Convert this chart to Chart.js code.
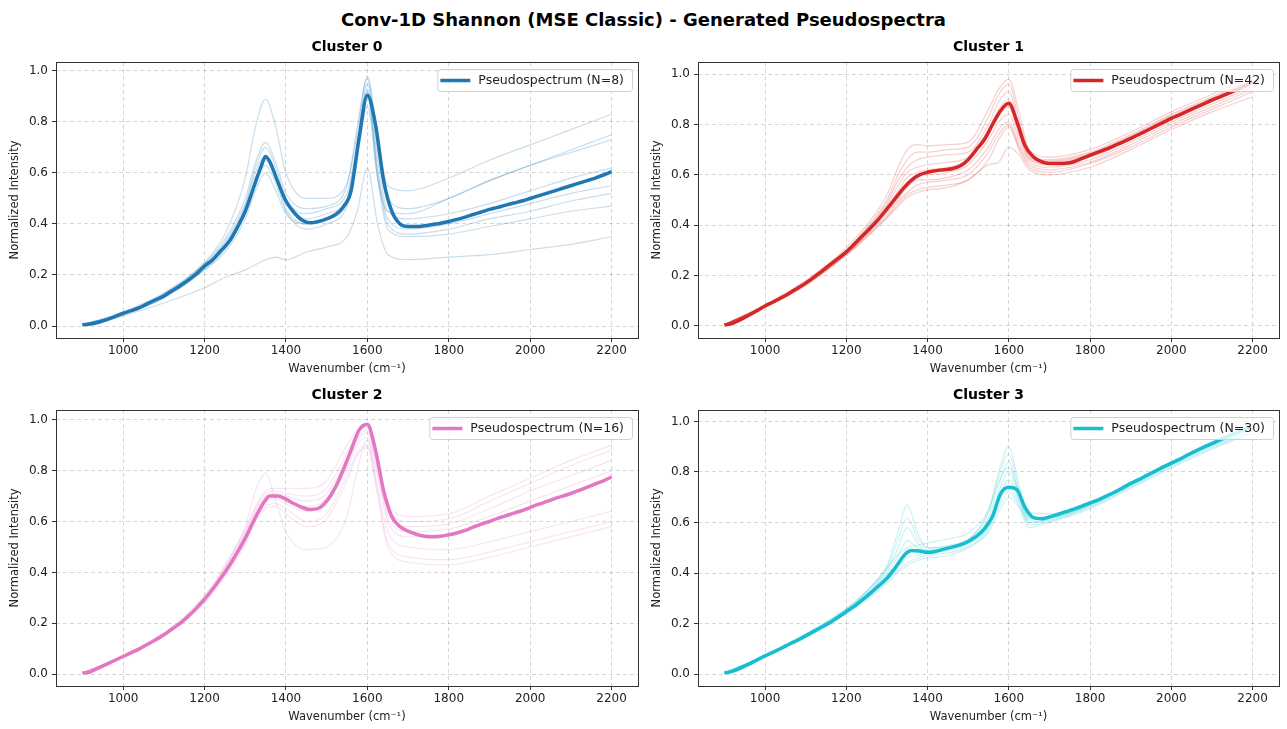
<!DOCTYPE html>
<html>
<head>
<meta charset="utf-8">
<script src="https://cdn.jsdelivr.net/npm/chart.js@4.4.1/dist/chart.umd.min.js"></script>
<style>
  body { margin: 0; background: #fff; width: 1287px; height: 729px; position: relative; overflow: hidden; }
  #suptitle { position: absolute; left: 0; top: 9px; width: 1287px; height: 22px; line-height: 22px;
    text-align: center; font: bold 18px 'DejaVu Sans', sans-serif; color: #000; }
  canvas { position: absolute; }
</style>
</head>
<body>
<div id="suptitle">Conv-1D Shannon (MSE Classic) - Generated Pseudospectra</div>
<canvas id="c0" width="643" height="350" style="left:0px;top:30px"></canvas>
<canvas id="c1" width="642" height="350" style="left:642px;top:30px"></canvas>
<canvas id="c2" width="643" height="350" style="left:0px;top:378px"></canvas>
<canvas id="c3" width="642" height="350" style="left:642px;top:378px"></canvas>
<script>
// wavenumber grids (cm-1)
const wavenumbers = [900,920,940,960,980,1000,1020,1040,1060,1080,1100,1120,1140,1160,1180,1200,1220,1240,1260,1280,1300,1320,1340,1350,1360,1380,1400,1420,1440,1460,1480,1500,1520,1540,1560,1580,1600,1620,1640,1660,1680,1700,1720,1740,1760,1780,1800,1820,1840,1860,1880,1900,1920,1940,1960,1980,2000,2020,2040,2060,2080,2100,2120,2140,2160,2180,2200];
const faintWavenumbers = [900,1000,1100,1200,1250,1300,1325,1350,1375,1400,1450,1500,1550,1575,1600,1625,1650,1700,1800,1900,2000,2100,2200];

const xTicks = [1000, 1200, 1400, 1600, 1800, 2000, 2200];
const yTicks = [0.0, 0.2, 0.4, 0.6, 0.8, 1.0];

const clusterNames = ['Cluster 0', 'Cluster 1', 'Cluster 2', 'Cluster 3'];
const clusterCounts = [8, 42, 16, 30];
const clusterColors = [[31,119,180], [214,39,40], [227,119,194], [23,190,207]];

// mean pseudospectra
const cluster0Mean = [0.005,0.008,0.015,0.025,0.037,0.05,
  0.06,0.072,0.088,0.103,0.118,
  0.138,0.158,0.18,0.205,0.235,
  0.26,0.295,0.33,0.385,0.45,
  0.54,0.63,0.665,0.645,0.565,0.49,
  0.445,0.415,0.405,0.41,0.42,
  0.435,0.465,0.53,0.74,0.905,
  0.79,0.57,0.45,0.40,0.39,
  0.39,0.393,0.398,0.403,0.41,
  0.418,0.427,0.437,0.447,0.457,
  0.465,0.474,0.482,0.49,0.50,
  0.51,0.52,0.53,0.54,0.55,
  0.56,0.57,0.58,0.592,0.605];

const cluster1Mean = [0.003,0.01,0.025,0.042,0.06,0.079,
  0.095,0.112,0.13,0.15,0.17,
  0.193,0.218,0.243,0.268,0.294,
  0.325,0.358,0.39,0.425,0.465,
  0.505,0.545,0.562,0.578,0.60,0.61,
  0.616,0.62,0.624,0.635,0.66,
  0.70,0.74,0.80,0.855,0.884,
  0.81,0.715,0.672,0.652,0.645,
  0.645,0.646,0.652,0.665,0.678,
  0.69,0.702,0.716,0.73,0.745,
  0.76,0.776,0.792,0.808,0.824,
  0.838,0.853,0.868,0.882,0.897,
  0.91,0.923,0.937,0.952,0.97];

const cluster2Mean = [0.005,0.01,0.025,0.04,0.055,0.07,
  0.085,0.10,0.118,0.136,0.155,
  0.178,0.20,0.228,0.26,0.295,
  0.335,0.378,0.425,0.478,0.535,
  0.60,0.66,0.685,0.70,0.70,0.688,
  0.67,0.655,0.647,0.652,0.68,
  0.73,0.80,0.88,0.96,0.982,
  0.88,0.72,0.62,0.58,0.562,
  0.55,0.542,0.54,0.542,0.548,
  0.555,0.565,0.578,0.59,0.60,
  0.612,0.622,0.633,0.643,0.655,
  0.667,0.678,0.69,0.70,0.71,
  0.722,0.735,0.748,0.76,0.775];

const cluster3Mean = [0.005,0.012,0.025,0.04,0.057,0.073,
  0.088,0.103,0.12,0.135,0.152,
  0.17,0.187,0.205,0.226,0.248,
  0.27,0.295,0.322,0.35,0.38,
  0.42,0.465,0.482,0.49,0.488,0.482,
  0.486,0.495,0.503,0.512,0.525,
  0.545,0.575,0.625,0.715,0.74,
  0.73,0.66,0.62,0.615,0.622,
  0.632,0.643,0.653,0.665,0.678,
  0.69,0.705,0.72,0.737,0.755,
  0.77,0.787,0.803,0.82,0.835,
  0.85,0.867,0.883,0.898,0.912,
  0.927,0.942,0.955,0.968,0.98];

// individual member spectra (on faintWavenumbers)
const cluster0Spectra = [
  [0.005,0.055,0.13,0.25,0.36,0.58,0.78,0.89,0.78,0.60,0.50,0.50,0.56,0.75,0.98,0.75,0.55,0.53,0.58,0.65,0.71,0.77,0.83],
  [0.005,0.05,0.125,0.245,0.34,0.50,0.64,0.72,0.64,0.52,0.46,0.47,0.55,0.78,0.97,0.70,0.50,0.46,0.50,0.57,0.63,0.69,0.75],
  [0.005,0.05,0.12,0.24,0.33,0.48,0.62,0.70,0.62,0.50,0.44,0.46,0.52,0.72,0.95,0.66,0.45,0.42,0.44,0.48,0.53,0.58,0.62],
  [0.005,0.05,0.12,0.235,0.32,0.47,0.60,0.67,0.60,0.48,0.42,0.44,0.50,0.70,0.93,0.62,0.42,0.38,0.40,0.44,0.48,0.52,0.55],
  [0.005,0.045,0.115,0.23,0.31,0.45,0.58,0.65,0.58,0.46,0.40,0.42,0.49,0.70,0.92,0.60,0.40,0.36,0.38,0.42,0.45,0.49,0.52],
  [0.005,0.045,0.11,0.22,0.30,0.44,0.56,0.63,0.56,0.45,0.38,0.40,0.47,0.68,0.90,0.58,0.38,0.35,0.36,0.39,0.42,0.45,0.47],
  [0.005,0.045,0.11,0.22,0.29,0.42,0.53,0.60,0.53,0.44,0.40,0.42,0.48,0.66,0.86,0.58,0.45,0.44,0.50,0.57,0.63,0.68,0.73],
  [0.0,0.04,0.09,0.15,0.19,0.22,0.24,0.26,0.27,0.26,0.29,0.31,0.35,0.45,0.62,0.40,0.28,0.26,0.27,0.28,0.30,0.32,0.35]
];
const cluster1Spectra = [
  [0.005,0.085,0.18,0.31,0.40,0.52,0.62,0.70,0.72,0.715,0.72,0.73,0.86,0.94,0.98,0.85,0.70,0.67,0.70,0.77,0.85,0.92,0.99],
  [0.005,0.082,0.175,0.30,0.39,0.50,0.59,0.66,0.69,0.69,0.70,0.71,0.83,0.92,0.96,0.82,0.69,0.66,0.69,0.76,0.84,0.91,0.98],
  [0.005,0.08,0.172,0.298,0.385,0.49,0.57,0.63,0.66,0.67,0.68,0.69,0.80,0.89,0.93,0.80,0.68,0.655,0.685,0.755,0.835,0.905,0.975],
  [0.005,0.08,0.17,0.295,0.38,0.48,0.55,0.61,0.63,0.64,0.65,0.67,0.78,0.86,0.90,0.78,0.67,0.65,0.68,0.75,0.83,0.90,0.97],
  [0.005,0.078,0.17,0.292,0.375,0.47,0.53,0.59,0.61,0.62,0.63,0.66,0.76,0.84,0.87,0.76,0.665,0.645,0.675,0.745,0.825,0.895,0.965],
  [0.005,0.078,0.168,0.29,0.37,0.46,0.52,0.57,0.60,0.60,0.61,0.64,0.74,0.81,0.84,0.74,0.66,0.64,0.67,0.74,0.82,0.89,0.96],
  [0.005,0.077,0.167,0.288,0.365,0.45,0.50,0.55,0.58,0.58,0.59,0.62,0.71,0.78,0.81,0.72,0.65,0.63,0.66,0.73,0.81,0.88,0.95],
  [0.005,0.076,0.165,0.285,0.36,0.44,0.49,0.53,0.56,0.57,0.58,0.60,0.69,0.76,0.80,0.71,0.64,0.62,0.65,0.72,0.80,0.87,0.94],
  [0.005,0.075,0.163,0.282,0.355,0.43,0.48,0.52,0.54,0.55,0.56,0.58,0.66,0.74,0.79,0.70,0.63,0.61,0.645,0.71,0.79,0.86,0.93],
  [0.005,0.075,0.16,0.28,0.35,0.43,0.47,0.51,0.53,0.54,0.55,0.58,0.64,0.65,0.71,0.68,0.62,0.60,0.63,0.70,0.78,0.85,0.91]
];
const cluster2Spectra = [
  [0.005,0.075,0.16,0.31,0.43,0.57,0.66,0.72,0.73,0.73,0.73,0.76,0.90,0.96,0.98,0.85,0.68,0.62,0.63,0.70,0.77,0.84,0.90],
  [0.005,0.072,0.158,0.30,0.42,0.56,0.65,0.71,0.72,0.71,0.70,0.73,0.87,0.95,0.97,0.84,0.66,0.60,0.61,0.68,0.75,0.82,0.88],
  [0.005,0.07,0.155,0.30,0.41,0.55,0.64,0.70,0.71,0.70,0.68,0.71,0.85,0.93,0.96,0.82,0.64,0.58,0.59,0.65,0.72,0.78,0.84],
  [0.005,0.07,0.155,0.295,0.40,0.54,0.63,0.69,0.70,0.68,0.66,0.69,0.83,0.92,0.95,0.80,0.62,0.56,0.57,0.62,0.68,0.74,0.80],
  [0.005,0.07,0.153,0.29,0.40,0.53,0.62,0.68,0.69,0.67,0.64,0.67,0.81,0.90,0.93,0.78,0.60,0.54,0.55,0.60,0.66,0.71,0.77],
  [0.005,0.072,0.16,0.30,0.42,0.58,0.72,0.79,0.68,0.56,0.49,0.50,0.62,0.80,0.92,0.74,0.56,0.50,0.49,0.52,0.56,0.60,0.64],
  [0.005,0.068,0.15,0.285,0.39,0.52,0.61,0.66,0.67,0.65,0.60,0.63,0.78,0.87,0.90,0.72,0.52,0.46,0.45,0.48,0.52,0.56,0.60],
  [0.005,0.068,0.15,0.28,0.385,0.51,0.60,0.65,0.66,0.63,0.58,0.61,0.76,0.86,0.89,0.70,0.50,0.44,0.43,0.46,0.50,0.54,0.58]
];
const cluster3Spectra = [
  [0.005,0.075,0.16,0.26,0.33,0.43,0.55,0.67,0.56,0.50,0.50,0.53,0.65,0.80,0.90,0.75,0.62,0.62,0.67,0.75,0.83,0.91,0.98],
  [0.005,0.074,0.155,0.255,0.325,0.42,0.52,0.62,0.54,0.50,0.51,0.535,0.64,0.78,0.87,0.73,0.62,0.625,0.675,0.755,0.835,0.915,0.985],
  [0.005,0.073,0.153,0.252,0.32,0.41,0.49,0.58,0.52,0.49,0.505,0.53,0.62,0.75,0.84,0.71,0.615,0.62,0.67,0.75,0.83,0.91,0.975],
  [0.005,0.073,0.152,0.25,0.315,0.40,0.46,0.53,0.50,0.49,0.50,0.525,0.60,0.72,0.80,0.70,0.61,0.62,0.675,0.755,0.835,0.91,0.98],
  [0.005,0.072,0.15,0.248,0.31,0.39,0.44,0.49,0.49,0.485,0.495,0.52,0.59,0.70,0.77,0.69,0.60,0.615,0.67,0.75,0.83,0.905,0.97],
  [0.005,0.072,0.15,0.245,0.305,0.38,0.42,0.46,0.47,0.48,0.49,0.515,0.58,0.68,0.74,0.68,0.60,0.61,0.665,0.745,0.825,0.90,0.965],
  [0.005,0.071,0.148,0.242,0.30,0.37,0.41,0.44,0.46,0.47,0.48,0.505,0.57,0.66,0.72,0.67,0.59,0.605,0.66,0.74,0.82,0.895,0.96],
  [0.005,0.07,0.146,0.24,0.295,0.36,0.40,0.43,0.45,0.46,0.47,0.50,0.56,0.64,0.70,0.66,0.58,0.60,0.655,0.735,0.815,0.89,0.955],
  [0.005,0.075,0.158,0.258,0.33,0.42,0.47,0.50,0.51,0.52,0.535,0.56,0.65,0.76,0.82,0.72,0.64,0.635,0.68,0.76,0.84,0.92,0.99]
];

const means = [cluster0Mean, cluster1Mean, cluster2Mean, cluster3Mean];
const spectra = [cluster0Spectra, cluster1Spectra, cluster2Spectra, cluster3Spectra];
const yRanges = [[-0.047, 1.035], [-0.048, 1.048], [-0.046, 1.038], [-0.046, 1.045]];
const faintAlpha = [0.24, 0.22, 0.2, 0.22];

const FONT = "'DejaVu Sans', sans-serif";
const rgba = (c, a) => `rgba(${c[0]},${c[1]},${c[2]},${a})`;

// matplotlib-like frame around the axes
const framePlugin = {
  id: 'frame',
  afterDraw(chart) {
    const {ctx, chartArea: a} = chart;
    ctx.save();
    ctx.strokeStyle = '#333';
    ctx.lineWidth = 1;
    ctx.strokeRect(Math.round(a.left) + 0.5, Math.round(a.top) + 0.5,
      Math.round(a.right - a.left), Math.round(a.bottom - a.top));
    ctx.restore();
  }
};

// legend box drawn inside the axes, upper right
const boxLegend = {
  id: 'boxLegend',
  afterDatasetsDraw(chart, args, opts) {
    const {ctx, chartArea: a} = chart;
    ctx.save();
    ctx.font = '12.5px ' + FONT;
    const tw = ctx.measureText(opts.text).width;
    const w = 3 + 30 + 8 + tw + 8, h = 22;
    const x = a.right - 6 - w, y = a.top + 7;
    ctx.beginPath();
    ctx.roundRect(x + 0.5, y + 0.5, w, h, 3);
    ctx.fillStyle = 'rgba(255,255,255,0.8)';
    ctx.fill();
    ctx.strokeStyle = '#d0d0d0';
    ctx.lineWidth = 1;
    ctx.stroke();
    ctx.beginPath();
    ctx.moveTo(x + 3, y + h / 2 + 0.5);
    ctx.lineTo(x + 33, y + h / 2 + 0.5);
    ctx.strokeStyle = opts.color;
    ctx.lineWidth = 3.5;
    ctx.stroke();
    ctx.fillStyle = '#222';
    ctx.textBaseline = 'middle';
    ctx.fillText(opts.text, x + 41, y + h / 2 + 1);
    ctx.restore();
  }
};

function makeChart(k) {
  const col = clusterColors[k];
  const datasets = [{
    label: `Pseudospectrum (N=${clusterCounts[k]})`,
    data: wavenumbers.map((x, i) => ({x, y: means[k][i]})),
    borderColor: rgba(col, 1),
    borderWidth: 3.5,
    pointRadius: 0,
    cubicInterpolationMode: 'monotone',
    order: 0
  }];
  spectra[k].forEach(s => {
    datasets.push({
      data: faintWavenumbers.map((x, i) => ({x, y: s[i]})),
      borderColor: rgba(col, faintAlpha[k]),
      borderWidth: 1.2,
      pointRadius: 0,
      cubicInterpolationMode: 'monotone',
      order: 1
    });
  });

  new Chart(document.getElementById('c' + k), {
    type: 'line',
    data: {datasets},
    plugins: [framePlugin, boxLegend],
    options: {
      responsive: false,
      animation: false,
      devicePixelRatio: 1,
      layout: {padding: {left: 0, right: 5, top: 0, bottom: 0}},
      plugins: {
        legend: {display: false},
        tooltip: {enabled: false},
        title: {
          display: true,
          text: clusterNames[k],
          fullSize: false,
          color: '#000',
          font: {family: FONT, size: 14, weight: 'bold'},
          padding: {top: 9, bottom: 6.2}
        },
        boxLegend: {text: `Pseudospectrum (N=${clusterCounts[k]})`, color: rgba(col, 1)}
      },
      scales: {
        x: {
          type: 'linear',
          min: 835,
          max: 2265,
          afterBuildTicks: s => { s.ticks = xTicks.map(v => ({value: v})); },
          afterFit: s => { s.height = 42; },
          ticks: {autoSkip: false, maxRotation: 0, padding: 2, color: '#222',
            font: {family: FONT, size: 12}, callback: v => String(v)},
          grid: {color: 'rgba(0,0,0,0.16)', tickColor: '#333', tickLength: 4, tickBorderDash: []},
          border: {display: false, dash: [4, 3]},
          title: {display: true, text: 'Wavenumber (cm⁻¹)', color: '#222',
            font: {family: FONT, size: 11.5}, padding: {top: 0, bottom: 4}}
        },
        y: {
          type: 'linear',
          min: yRanges[k][0],
          max: yRanges[k][1],
          afterBuildTicks: s => { s.ticks = yTicks.map(v => ({value: v})); },
          afterFit: s => { s.width = 56; },
          ticks: {autoSkip: false, padding: 4, color: '#222',
            font: {family: FONT, size: 12}, callback: v => v.toFixed(1)},
          grid: {color: 'rgba(0,0,0,0.16)', tickColor: '#333', tickLength: 4, tickBorderDash: []},
          border: {display: false, dash: [4, 3]},
          title: {display: true, text: 'Normalized Intensity', color: '#222',
            font: {family: FONT, size: 11.5}, padding: {top: 8, bottom: 0}}
        }
      }
    }
  });
}

[0, 1, 2, 3].forEach(makeChart);
</script>
</body>
</html>
